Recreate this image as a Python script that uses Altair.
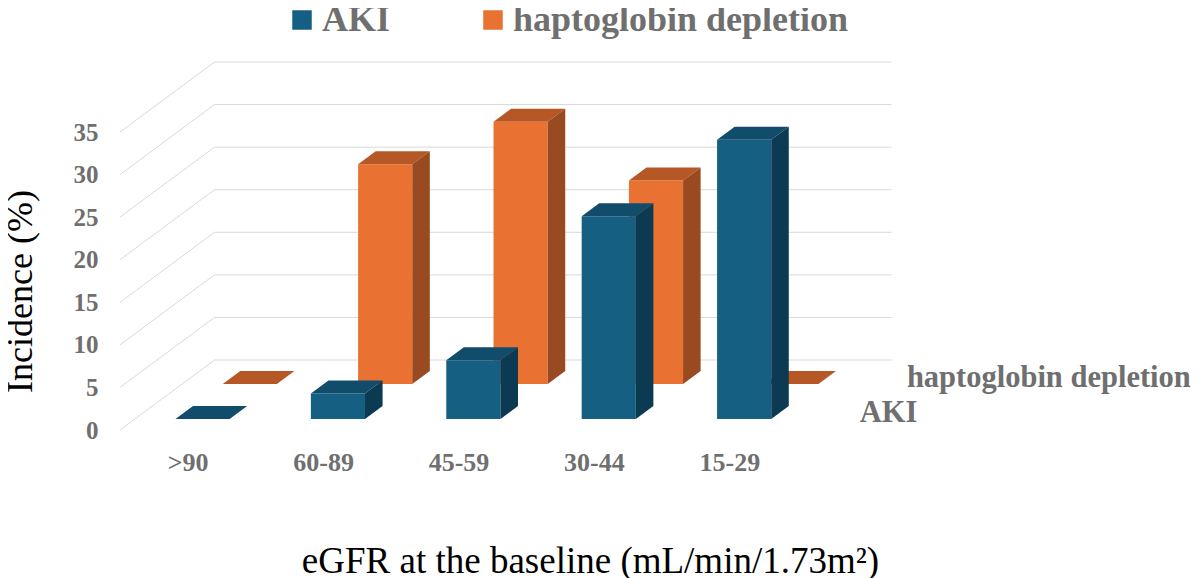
import json
import pandas as pd
import altair as alt

categories = [">90", "60-89", "45-59", "30-44", "15-29"]
series = ["AKI", "haptoglobin depletion"]
aki = [0, 3.0, 6.9, 23.8, 32.8]
hapto = [0, 25.8, 30.8, 23.9, 0]
y_ticks = [0, 5, 10, 15, 20, 25, 30, 35]

FONT = "Liberation Serif"
GREY = "#6f6f6f"
# front, top, side shades
BLUE = ["#156082", "#114d6b", "#0c3a52"]
ORANGE = ["#e97132", "#b65826", "#9a4a20"]

W, H = 677, 298
YMAX = 35
PX_X = W / len(categories)
PX_Y = H / YMAX
SLANT = 1.35  # sideways shift per px of depth


def dx(d):
    return SLANT * d / PX_X


def dy(d):
    return d / PX_Y


# depth in px of the front and back face of each row of bars
ROWS = {"AKI": (11, 24), "haptoglobin depletion": (46, 59)}
WALL = 70
BAR_L, BAR_R = 0.3, 0.7

front, top, side = [], [], []
for name, vals in zip(series, [aki, hapto]):
    d1, d2 = ROWS[name]
    for i, v in enumerate(vals):
        bid = f"{name}-{i}"
        front.append(dict(series=name, x=i + BAR_L + dx(d1), x2=i + BAR_R + dx(d1),
                          y=dy(d1), y2=v + dy(d1)))
        for d in (d1, d2):
            top.append(dict(series=name, bar=bid, y=v + dy(d),
                            x=i + BAR_L + dx(d), x2=i + BAR_R + dx(d)))
            side.append(dict(series=name, bar=bid, x=i + BAR_R + dx(d),
                             y=v + dy(d), y2=dy(d)))
front = pd.DataFrame(front)
top = pd.DataFrame(top)
side = pd.DataFrame(side)

grid = []
for v in y_ticks:
    for k, (xx, d) in enumerate([(0, 0), (0, WALL), (len(categories), WALL)]):
        grid.append(dict(v=v, k=k, x=xx + dx(d), y=v + dy(d)))
grid = pd.DataFrame(grid)

row_labels = pd.DataFrame([
    dict(series=name, x=len(categories) + dx(sum(ROWS[name]) / 2), y=dy(sum(ROWS[name]) / 2))
    for name in series
])

x_scale = alt.Scale(domain=[0, len(categories)], nice=False, zero=False)
y_scale = alt.Scale(domain=[0, YMAX], nice=False)

x_axis = alt.Axis(
    values=[i + 0.5 for i in range(len(categories))],
    labelExpr=f"{json.dumps(categories)}[floor(datum.value)]",
    domain=False, ticks=False, tickSize=0, grid=False,
    labelFont=FONT, labelFontSize=26, labelFontWeight="bold", labelColor=GREY, labelPadding=19,
    title="eGFR at the baseline (mL/min/1.73m²)",
    titleFont=FONT, titleFontSize=37, titleFontWeight="normal", titleColor="black",
    titleX=470, titleY=142, titleBaseline="alphabetic",
)
y_axis = alt.Axis(
    values=y_ticks, domain=False, ticks=False, tickSize=0, grid=False,
    labelFont=FONT, labelFontSize=25, labelFontWeight="bold", labelColor=GREY, labelPadding=22,
    title="Incidence (%)",
    titleFont=FONT, titleFontSize=36, titleFontWeight="normal", titleColor="black",
    titleX=-100, titleY=159, titleBaseline="middle",
)

color = alt.Color(
    "series:N",
    scale=alt.Scale(domain=series, range=[BLUE[0], ORANGE[0]]),
    title=None,
    legend=alt.Legend(
        orient="none", legendX=164, legendY=-130, direction="horizontal",
        symbolType="square", symbolSize=380, symbolStrokeWidth=0,
        labelFont=FONT, labelFontSize=36, labelFontWeight="bold", labelColor=GREY,
        labelOffset=2, columnPadding=84, labelLimit=500,
    ),
)

grid_layer = alt.Chart(grid).mark_line(color="#d9d9d9", strokeWidth=1).encode(
    x=alt.X("x:Q", scale=x_scale, axis=x_axis),
    y=alt.Y("y:Q", scale=y_scale, axis=y_axis),
    detail="v:N",
    order="k:Q",
)

bars = []
for name, shades in [("haptoglobin depletion", ORANGE), ("AKI", BLUE)]:
    bars.append(
        alt.Chart(front).transform_filter(alt.datum.series == name).mark_rect().encode(
            x=alt.X("x:Q", scale=x_scale, axis=x_axis),
            x2="x2:Q",
            y=alt.Y("y:Q", scale=y_scale, axis=y_axis),
            y2="y2:Q",
            color=color,
        )
    )
    bars.append(
        alt.Chart(top).transform_filter(alt.datum.series == name)
        .mark_area(orient="horizontal", color=shades[1]).encode(
            x=alt.X("x:Q", scale=x_scale, axis=x_axis, stack=None),
            x2="x2:Q",
            y=alt.Y("y:Q", scale=y_scale, axis=y_axis),
            detail="bar:N",
        )
    )
    bars.append(
        alt.Chart(side).transform_filter(alt.datum.series == name)
        .mark_area(orient="vertical", color=shades[2]).encode(
            x=alt.X("x:Q", scale=x_scale, axis=x_axis),
            y=alt.Y("y:Q", scale=y_scale, axis=y_axis, stack=None),
            y2="y2:Q",
            detail="bar:N",
        )
    )

labels = alt.Chart(row_labels).mark_text(
    align="left", baseline="middle", dx=39,
    font=FONT, fontSize=30.5, fontWeight="bold", color=GREY,
).encode(
    x=alt.X("x:Q", scale=x_scale, axis=x_axis),
    y=alt.Y("y:Q", scale=y_scale, axis=y_axis),
    text="series:N",
)

chart = alt.layer(grid_layer, *bars, labels).properties(
    width=W,
    height=H,
    autosize=alt.AutoSizeParams(type="none"),
    padding={"left": 112, "top": 124, "right": 395, "bottom": 148},
    background="white",
).configure_view(strokeWidth=0)

chart.save("out.html", embed_options={"renderer": "svg", "actions": False})
